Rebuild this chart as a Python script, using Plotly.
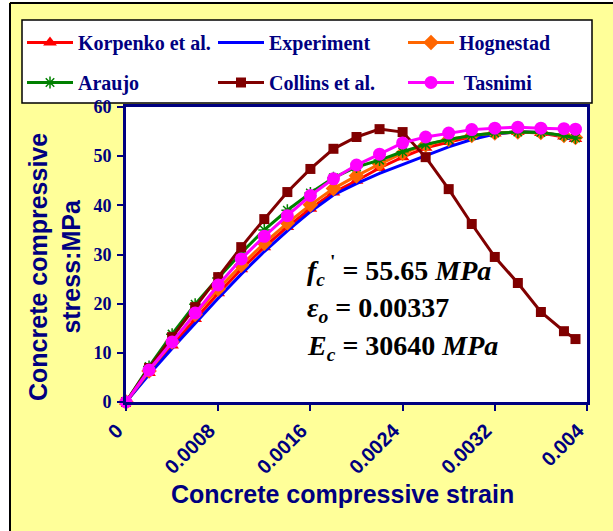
import plotly.graph_objects as go

# ---- data ----
strain = [0, 0.0002, 0.0004, 0.0006, 0.0008, 0.0010, 0.0012, 0.0014, 0.0016, 0.0018,
          0.0020, 0.0022, 0.0024, 0.0026, 0.0028, 0.0030, 0.0032, 0.0034, 0.0036, 0.0038, 0.0039]

korpenko = [0, 5.9, 11.5, 16.9, 22.1, 27.0, 31.5, 35.6, 39.3, 42.6,
            45.0, 47.6, 49.8, 51.7, 52.9, 54.0, 54.6, 54.9, 54.7, 54.0, 53.5]
experiment = [0, 5.6, 10.9, 16.1, 21.1, 26.0, 30.6, 34.8, 38.7, 42.1,
              44.4, 46.5, 48.3, 50.1, 51.9, 53.4, 54.5, 55.0, 54.8, 54.1, 53.0]
hognestad = [0, 6.3, 12.2, 17.8, 23.0, 27.8, 32.3, 36.4, 40.1, 43.4,
             46.0, 48.4, 50.6, 52.3, 53.4, 54.2, 54.7, 54.9, 54.8, 54.2, 53.8]
araujo = [0, 7.2, 13.8, 19.9, 25.2, 30.3, 35.0, 39.0, 42.5, 45.6,
          47.8, 49.2, 50.9, 52.4, 53.4, 54.2, 54.7, 54.9, 54.8, 54.2, 53.7]
collins = [0, 6.9, 13.2, 19.3, 25.4, 31.5, 37.2, 42.7, 47.4, 51.5,
           53.9, 55.5, 54.9, 49.8, 43.3, 36.2, 29.5, 24.2, 18.3, 14.4, 12.8]
tasnimi = [0, 6.5, 12.2, 18.1, 23.8, 29.1, 33.7, 37.9, 42.0, 45.4,
           48.2, 50.4, 52.7, 53.9, 54.7, 55.4, 55.7, 55.9, 55.7, 55.6, 55.5]

x_tickvals = [0, 0.0008, 0.0016, 0.0024, 0.0032, 0.004]
x_ticktext = ["0", "0.0008", "0.0016", "0.0024", "0.0032", "0.004"]
y_tickvals = [0, 10, 20, 30, 40, 50, 60]

series_names = ["Korpenko et al.", "Experiment", "Hognestad", "Araujo", "Collins et al.", " Tasnimi"]

NAVY = "#000080"
W, H = 613, 531
ML, MR, MT, MB = 126, 26, 107, 129
PW, PH = W - ML - MR, H - MT - MB


def px(xp):
    return (xp - ML) / PW


def py(yp):
    return (H - MB - yp) / PH


fig = go.Figure()

common = dict(mode="lines+markers", cliponaxis=False)
fig.add_trace(go.Scatter(x=strain, y=korpenko, name=series_names[0], legend="legend",
                         line=dict(color="#FF0000", width=3),
                         marker=dict(symbol="triangle-up", size=12, color="#FF0000"), **common))
fig.add_trace(go.Scatter(x=strain, y=experiment, name=series_names[1], legend="legend2",
                         mode="lines", cliponaxis=False,
                         line=dict(color="#0000FF", width=3)))
fig.add_trace(go.Scatter(x=strain, y=hognestad, name=series_names[2], legend="legend3",
                         line=dict(color="#FF6600", width=3),
                         marker=dict(symbol="diamond", size=12, color="#FF6600"), **common))
fig.add_trace(go.Scatter(x=strain, y=araujo, name=series_names[3], legend="legend4",
                         line=dict(color="#008000", width=3),
                         marker=dict(symbol="asterisk-open", size=10, color="#008000",
                                     line=dict(color="#008000", width=1.5)), **common))
fig.add_trace(go.Scatter(x=strain, y=collins, name=series_names[4], legend="legend5",
                         line=dict(color="#800000", width=3),
                         marker=dict(symbol="square", size=10, color="#800000"), **common))
fig.add_trace(go.Scatter(x=strain, y=tasnimi, name=series_names[5], legend="legend6",
                         line=dict(color="#FF00FF", width=3),
                         marker=dict(symbol="circle", size=13, color="#FF00FF"), **common))

legend_common = dict(
    orientation="h", xref="container", yref="container", xanchor="left", yanchor="top",
    bgcolor="rgba(0,0,0,0)", borderwidth=0, itemwidth=46,
    font=dict(family="Liberation Serif", size=20, color=NAVY, weight="bold"),
    itemclick=False, itemdoubleclick=False,
)
col_x = [22, 213, 403]
row_y = [23, 63]

shapes = [
    # white strips outside the chart frame
    dict(type="rect", xref="paper", yref="paper", x0=px(-20), x1=px(9), y0=py(560), y1=py(-20),
         fillcolor="white", line=dict(width=0), layer="below"),
    dict(type="rect", xref="paper", yref="paper", x0=px(-20), x1=px(640), y0=py(2), y1=py(-20),
         fillcolor="white", line=dict(width=0), layer="below"),
    # chart frame lines
    dict(type="line", xref="paper", yref="paper", x0=px(10), x1=px(10), y0=py(560), y1=py(3),
         line=dict(color="black", width=2), layer="below"),
    dict(type="line", xref="paper", yref="paper", x0=px(10), x1=px(640), y0=py(3), y1=py(3),
         line=dict(color="black", width=2), layer="below"),
    # legend box
    dict(type="rect", xref="paper", yref="paper", x0=px(22), x1=px(592), y0=py(103), y1=py(20),
         fillcolor="white", line=dict(color="black", width=1.5), layer="below"),
]

annot_font = dict(family="Liberation Serif", size=28, color="black", weight="bold")
annotations = [
    dict(text="<i>f</i><sub><i>c</i></sub><sup> '</sup> = 55.65 <i>MPa</i>", xref="paper", yref="paper",
         x=px(305), y=py(270), xanchor="left", yanchor="middle", showarrow=False, font=annot_font),
    dict(text="<i>ε</i><sub><i>o</i></sub> = 0.00337", xref="paper", yref="paper",
         x=px(305), y=py(309), xanchor="left", yanchor="middle", showarrow=False, font=annot_font),
    dict(text="<i>E</i><sub><i>c</i></sub> = 30640 <i>MPa</i>", xref="paper", yref="paper",
         x=px(305), y=py(347), xanchor="left", yanchor="middle", showarrow=False, font=annot_font),
    # axis titles
    dict(text="Concrete compressive strain", xref="paper", yref="paper",
         x=px(342), y=py(494), xanchor="center", yanchor="middle", showarrow=False,
         font=dict(family="Liberation Sans", size=25, color=NAVY, weight="bold")),
    dict(text="Concrete compressive<br>stress:MPa", xref="paper", yref="paper",
         x=px(54), y=py(267), xanchor="center", yanchor="middle", showarrow=False, textangle=-90,
         font=dict(family="Liberation Sans", size=25, color=NAVY, weight="bold")),
]

legends = {}
for i in range(6):
    key = "legend" if i == 0 else f"legend{i + 1}"
    legends[key] = dict(x=col_x[i % 3] / W, y=1 - row_y[i // 3] / H, **legend_common)

fig.update_layout(
    width=W, height=H,
    margin=dict(l=ML, r=MR, t=MT, b=MB, autoexpand=False),
    paper_bgcolor="#FFFF99", plot_bgcolor="white",
    showlegend=True,
    shapes=shapes,
    annotations=annotations,
    xaxis=dict(range=[0, 0.004], tickvals=x_tickvals, ticktext=x_ticktext, tickangle=-45,
               showgrid=False, zeroline=False, showline=True, linecolor=NAVY, linewidth=3,
               mirror=True, ticks="outside", ticklen=6, tickwidth=2, tickcolor=NAVY,
               ticklabelshift=-9,
               tickfont=dict(family="Liberation Sans", size=20, color=NAVY, weight="bold"),
               automargin=False),
    yaxis=dict(range=[0, 60], tickvals=y_tickvals, showgrid=False, zeroline=False,
               showline=True, linecolor=NAVY, linewidth=3, mirror=True,
               ticks="outside", ticklen=6, tickwidth=2, tickcolor=NAVY, ticklabelstandoff=2,
               tickfont=dict(family="Liberation Serif", size=18, color=NAVY, weight="bold"),
               automargin=False),
    **legends,
)

fig.write_html("out.html")
